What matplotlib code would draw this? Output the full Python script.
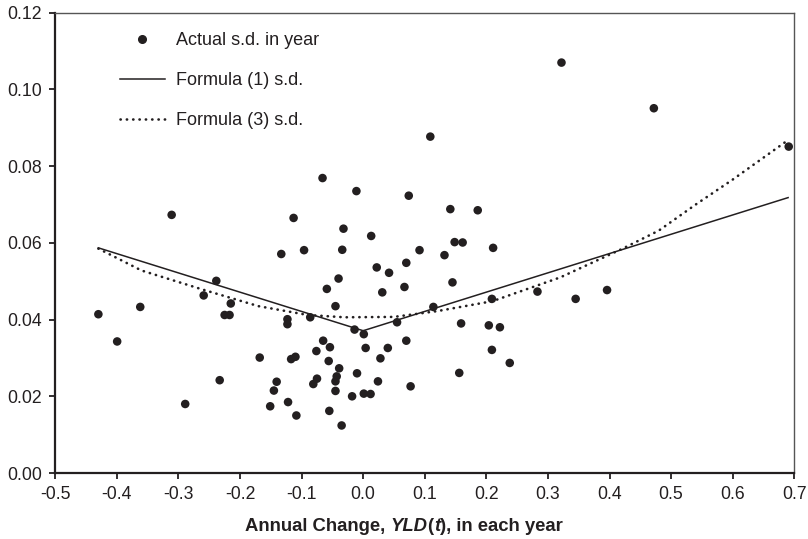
import matplotlib
matplotlib.use("Agg")
import matplotlib.pyplot as plt
from matplotlib.offsetbox import TextArea, HPacker, AnnotationBbox
from matplotlib.lines import Line2D

plt.rcParams['font.family'] = ['Liberation Sans', 'DejaVu Sans']

# Actual s.d. in year (scatter)
actual_x = [-0.430, -0.3995, -0.362, -0.311, -0.289, -0.259, -0.2385, -0.233, -0.225, -0.217,
            -0.215, -0.168, -0.133, -0.096, -0.113, -0.066, -0.011, 0.074, 0.109, -0.032,
            0.013, -0.034, 0.0915, 0.022, 0.042, 0.070, -0.040, -0.059, 0.031, 0.067,
            -0.045, -0.123, -0.123, -0.086, -0.014, 0.001, 0.055, 0.070, -0.065, -0.054,
            -0.076, 0.004, 0.040, -0.117, -0.110, -0.056, 0.028, -0.039, -0.010, -0.043,
            -0.075, -0.081, -0.045, 0.024, -0.1405, -0.145, -0.045, -0.018, 0.001, 0.012,
            0.077, -0.151, -0.122, -0.1085, -0.055, -0.035, 0.1415, 0.186, 0.1485, 0.1615,
            0.211, 0.132, 0.145, 0.114, 0.209, 0.283, 0.345, 0.159, 0.204, 0.222,
            0.209, 0.238, 0.156, 0.322, 0.472, 0.691, 0.396]
actual_y = [0.0414, 0.0343, 0.0433, 0.0673, 0.0180, 0.0463, 0.0501, 0.0242, 0.0412, 0.0412,
            0.0442, 0.0301, 0.0571, 0.0581, 0.0665, 0.0769, 0.0735, 0.0723, 0.0877, 0.0637,
            0.0618, 0.0582, 0.0581, 0.0536, 0.0522, 0.0548, 0.0507, 0.0480, 0.0471, 0.0485,
            0.0435, 0.0401, 0.0388, 0.0406, 0.0374, 0.0362, 0.0393, 0.0345, 0.0345, 0.0328,
            0.0318, 0.0326, 0.0326, 0.0297, 0.0303, 0.0292, 0.0299, 0.0273, 0.0260, 0.0252,
            0.0246, 0.0232, 0.0239, 0.0239, 0.0238, 0.0215, 0.0214, 0.0200, 0.0207, 0.0206,
            0.0226, 0.0174, 0.0185, 0.0150, 0.0162, 0.0124, 0.0688, 0.0685, 0.0602, 0.0601,
            0.0587, 0.0568, 0.0497, 0.0433, 0.0454, 0.0473, 0.0454, 0.0390, 0.0385, 0.0380,
            0.0321, 0.0287, 0.0261, 0.1070, 0.0951, 0.0851, 0.0477]

# Formula (1) s.d.
f1_x = [-0.43, 0.0, 0.69]
f1_y = [0.0587, 0.0371, 0.0718]

# Formula (3) s.d.
f3_x = [-0.43, -0.36, -0.26, -0.17, -0.09, -0.03, 0.05, 0.12, 0.21, 0.32, 0.42, 0.48, 0.54, 0.60, 0.69]
f3_y = [0.0585, 0.0528, 0.0478, 0.0435, 0.0412, 0.0406, 0.0407, 0.0422, 0.0448, 0.0510,
        0.0584, 0.0632, 0.0700, 0.0765, 0.0868]

x_ticks = [-0.5, -0.4, -0.3, -0.2, -0.1, 0.0, 0.1, 0.2, 0.3, 0.4, 0.5, 0.6, 0.7]
y_ticks = [0.00, 0.02, 0.04, 0.06, 0.08, 0.10, 0.12]

ink = '#231f20'
fig = plt.figure(figsize=(8.08, 5.39), dpi=100)
ax = fig.add_axes([0.0684, 0.1224, 0.9146, 0.854])

ax.scatter(actual_x, actual_y, s=38, color=ink, edgecolors='none', zorder=3,
           label='Actual s.d. in year')
ax.plot(f1_x, f1_y, color=ink, lw=1.1, label='Formula (1) s.d.', zorder=2)
ax.plot(f3_x, f3_y, color=ink, lw=1.9, linestyle=(0, (0.1, 2.3)),
        dash_capstyle='round', label='Formula (3) s.d.', zorder=2)

ax.set_xlim(-0.5, 0.7)
ax.set_ylim(0.0, 0.12)
ax.set_xticks(x_ticks)
ax.set_xticklabels([f"{t:.1f}" for t in x_ticks])
ax.set_yticks(y_ticks)
ax.set_yticklabels([f"{t:.2f}" for t in y_ticks])
ax.tick_params(axis='both', direction='out', length=4.5, width=1.3, colors=ink,
               labelsize=12.7, labelcolor=ink)
ax.tick_params(axis='x', pad=5)
ax.tick_params(axis='y', pad=5)

for s in ['left', 'bottom']:
    ax.spines[s].set_linewidth(1.6)
    ax.spines[s].set_color(ink)
for s in ['top', 'right']:
    ax.spines[s].set_linewidth(1.0)
    ax.spines[s].set_color('#555555')

handles = [Line2D([], [], marker='o', color=ink, markersize=5.5, linestyle='none'),
           Line2D([], [], color=ink, lw=1.1),
           Line2D([], [], color=ink, lw=1.9, linestyle=(0, (0.1, 2.3)), dash_capstyle='round')]
labels = ['Actual s.d. in year', 'Formula (1) s.d.', 'Formula (3) s.d.']
ax.legend(handles, labels, loc='upper left', bbox_to_anchor=(0.087, 0.958),
          frameon=False, fontsize=13, handlelength=2.5, handletextpad=0.65,
          labelspacing=1.28, borderpad=0, borderaxespad=0, labelcolor=ink)

# x-axis label with mixed bold / bold italic
parts = [("Annual Change, ", 'normal'), ("YLD", 'italic'), ("(", 'normal'),
         ("t", 'italic'), ("), in each year", 'normal')]
areas = [TextArea(t, textprops=dict(fontsize=13.3, fontweight='bold', fontstyle=st, color=ink))
         for t, st in parts]
box = HPacker(children=areas, align='baseline', pad=0, sep=0)
ab = AnnotationBbox(box, (0.5, 0.024), xycoords='figure fraction', frameon=False,
                    box_alignment=(0.5, 0.5))
fig.add_artist(ab)

fig.savefig('out.png', dpi=100)
